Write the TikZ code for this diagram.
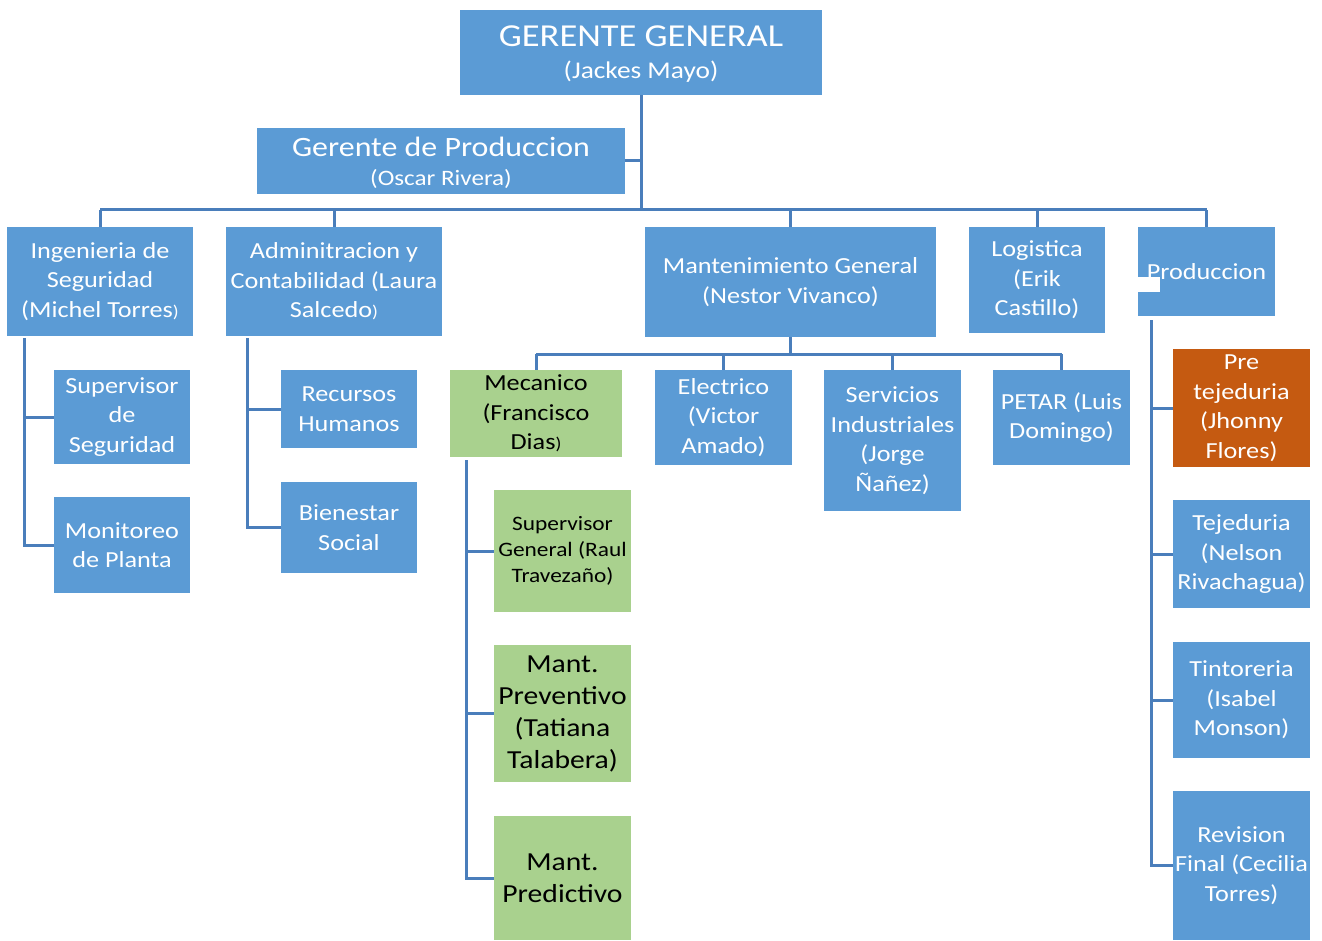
\documentclass[tikz,border=0pt]{standalone}
\usepackage{fontspec}
\setmainfont[FakeStretch=1.14]{Carlito}
\definecolor{bx}{HTML}{5B9BD5}
\definecolor{gn}{HTML}{A9D18E}
\definecolor{og}{HTML}{C55A11}
\definecolor{ln}{HTML}{4A7EBB}
\begin{document}
\begin{tikzpicture}[x=1pt,y=-1pt,
  box/.style={fill=bx,text=white,inner sep=0pt,align=center,font=\fontsize{23}{29.5}\selectfont},
  gbox/.style={box,fill=gn,text=black},
  obox/.style={box,fill=og},
  conn/.style={draw=ln,line width=3pt}]
\useasboundingbox (0,0) rectangle (1322,941);
% top
\node[box,minimum width=362,minimum height=85] (gg) at (641,52.5) {};
\node[text=white,align=center,font=\fontsize{32}{36}\selectfont] (ggt) at (641,36) {GERENTE GENERAL};
\node[text=white,align=center,font=\fontsize{24}{28}\selectfont] (ggs) at (641,72) {(Jackes Mayo)};
\node[box,minimum width=368,minimum height=66] (gp) at (441,161) {};
\node[text=white,font=\fontsize{28}{32}\selectfont] (gpt) at (441,147) {Gerente de Produccion};
\node[text=white,font=\fontsize{22}{26}\selectfont] (gps) at (441,179) {(Oscar Rivera)};
% level 2
\node[box,minimum width=186,minimum height=109] (ing) at (100,281.5) {Ingenieria de\\Seguridad\\(Michel Torres{\fontsize{17}{20}\selectfont)}};
\node[box,minimum width=216,minimum height=109] (adm) at (334,281.5) {Adminitracion y\\Contabilidad (Laura\\Salcedo{\fontsize{17}{20}\selectfont)}};
\node[box,minimum width=291,minimum height=110] (man) at (790.5,282) {Mantenimiento General\\(Nestor Vivanco)};
\node[box,minimum width=136,minimum height=106] (log) at (1037,280) {Logistica\\(Erik\\Castillo)};
\node[box,minimum width=137,minimum height=89] (pro) at (1206.5,271.5) {Produccion};
\fill[white] (1138,277) rectangle (1160,292);
% level 3 left
\node[box,minimum width=136,minimum height=94] (sup) at (122,417) {Supervisor\\de\\Seguridad};
\node[box,minimum width=136,minimum height=96] (mon) at (122,545) {Monitoreo\\de Planta};
\node[box,minimum width=136,minimum height=78] (rec) at (349,409) {Recursos\\Humanos};
\node[box,minimum width=136,minimum height=91] (bie) at (349,527.5) {Bienestar\\Social};
% mantenimiento children
\node[gbox,minimum width=172,minimum height=87] (mec) at (536,413.5) {Mecanico\\(Francisco\\Dias{\fontsize{17}{20}\selectfont)}};
\node[box,minimum width=137,minimum height=95] (ele) at (723.5,417.5) {Electrico\\(Victor\\Amado)};
\node[box,minimum width=137,minimum height=141] (ser) at (892.5,440.5) {Servicios\\Industriales\\(Jorge\\Ñañez)};
\node[box,minimum width=137,minimum height=95] (pet) at (1061.5,417.5) {PETAR (Luis\\Domingo)};
% mecanico children
\node[gbox,minimum width=137,minimum height=122,font=\fontsize{20.5}{26}\selectfont] (sg) at (562.5,551) {Supervisor\\General (Raul\\Travezaño)};
\node[gbox,minimum width=137,minimum height=137,font=\fontsize{26}{32}\selectfont] (mp) at (562.5,713.5) {Mant.\\Preventivo\\(Tatiana\\Talabera)};
\node[gbox,minimum width=137,minimum height=124,font=\fontsize{26}{32}\selectfont] (md) at (562.5,878) {Mant.\\Predictivo};
% produccion children
\node[obox,minimum width=137,minimum height=118] (pre) at (1241.5,408) {Pre\\tejeduria\\(Jhonny\\Flores)};
\node[box,minimum width=137,minimum height=108] (tej) at (1241.5,554) {Tejeduria\\(Nelson\\Rivachagua)};
\node[box,minimum width=137,minimum height=116] (tin) at (1241.5,700) {Tintoreria\\(Isabel\\Monson)};
\node[box,minimum width=137,minimum height=149] (rev) at (1241.5,865.5) {Revision\\Final (Cecilia\\Torres)};
% connectors
\coordinate (bus) at (641,210);
\draw[conn] (gg.south) -- (gg.south |- bus);
\draw[conn] (gp.east) -- (gp.east -| bus);
\draw[conn] (ing.north |- bus) -- (pro.north |- bus);
\foreach \n in {ing,adm,man,log,pro} \draw[conn] (\n.north) -- (\n.north |- bus);
\coordinate (mbus) at (790.5,354);
\draw[conn] (man.south) -- (mbus);
\draw[conn] (mec.north |- mbus) -- (pet.north |- mbus);
\foreach \n in {mec,ele,ser,pet} \draw[conn] (\n.north) -- (\n.north |- mbus);
\coordinate (ingv) at (24,338);
\draw[conn] (ingv) |- (sup.west);
\draw[conn] (ingv) |- (mon.west);
\coordinate (admv) at (247,338);
\draw[conn] (admv) |- (rec.west);
\draw[conn] (admv) |- (bie.west);
\coordinate (mecv) at (466,460);
\draw[conn] (mecv) |- (sg.west);
\draw[conn] (mecv) |- (mp.west);
\draw[conn] (mecv) |- (md.west);
\coordinate (prov) at (1151,320);
\draw[conn] (prov) |- (pre.west);
\draw[conn] (prov) |- (tej.west);
\draw[conn] (prov) |- (tin.west);
\draw[conn] (prov) |- (rev.west);
\end{tikzpicture}
\end{document}
